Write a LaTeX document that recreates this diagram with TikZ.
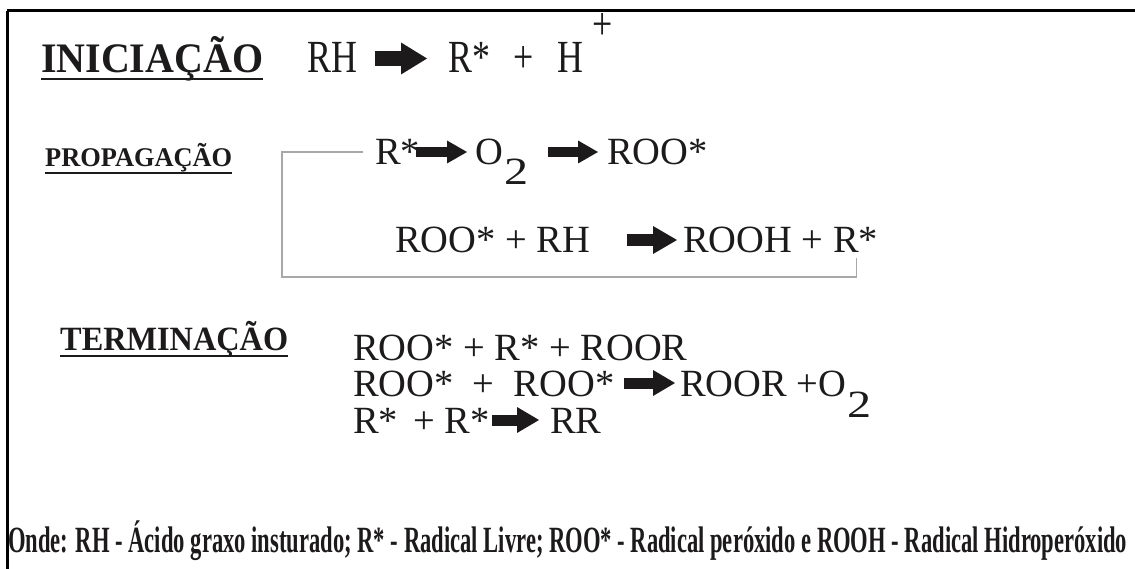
\documentclass[tikz,border=0pt]{standalone}
\usepackage{fontspec}
\setmainfont{Liberation Serif}
\usetikzlibrary{arrows.meta}
\definecolor{ink}{HTML}{1C1A1A}
\definecolor{loopgray}{HTML}{A8A8A8}
% stretch a text horizontally to a given width, keeping its height
\newcommand\fitto[2]{\resizebox{#1}{\height}{#2}}
% narrow lettering used on the initiation line
\newcommand\narrowtxt[1]{\scalebox{0.78}[1]{#1}}
% lowered index digit, as large as the letters
\newcommand\lowidx[2]{\hspace{1pt}\raisebox{#1}{\scalebox{1.25}[1]{#2}}}

\begin{document}
\begin{tikzpicture}[x=1pt,y=-1pt,
  every node/.style={inner sep=0pt, anchor=base west, text=ink},
  eq/.style={font=\fontsize{38.5}{42}\selectfont, text height=26pt, text depth=0pt},
  bigeq/.style={font=\fontsize{46}{50}\selectfont, text height=29pt, text depth=0pt},
  heading/.style={font=\bfseries\fontsize{#1}{#1}\selectfont},
  note/.style={font=\bfseries\fontsize{37}{40}\selectfont},
  uline/.style={line width=2pt, ink},
  frame/.style={line width=3pt, black},
  cycle/.style={line width=1.2pt, loopgray},
  blockarrow/.style n args={3}{line width=#1, draw=ink,
    -{Triangle[length=#3,width=#2,line width=0pt]}},
]
\useasboundingbox (0,0) rectangle (1135,569);
\fill[white] (0,0) rectangle (1135,569);

% frame
\draw[frame] (7,11) -- (1135,11);
\draw[frame] (7,11) -- (7,569);

% --- initiation ---
\node[heading=42] (ini) at (41,73) {\fitto{222pt}{INICIAÇÃO}};
\draw[uline] ([yshift=-6pt]ini.base west) -- ([yshift=-6pt]ini.base east);
\node[bigeq] (rh) at (307,73) {\narrowtxt{RH}};
\node[bigeq] (ir) at (448,73) {\narrowtxt{R*}};
\node[bigeq] (ip) at (513,73) {\narrowtxt{+}};
\node[bigeq] (ih) at (557,73) {\narrowtxt{H}};
\node[bigeq] (ihp) at (592,40) {\narrowtxt{+}};
\draw[blockarrow={15pt}{32pt}{26pt}] ([xshift=18pt]rh.east) -- ([xshift=-21pt]ir.west);

% --- propagation ---
\node[heading=27] (prop) at (45,167) {\fitto{187pt}{PROPAGAÇÃO}};
\draw[uline] ([yshift=-6pt]prop.base west) -- ([yshift=-6pt]prop.base east);
\node[eq] (pr) at (375,165) {R*};
\node[eq] (po) at (475,165) {O\lowidx{-20pt}{2}};
\node[eq] (proo) at (607,165) {ROO*};
\draw[blockarrow={10pt}{23pt}{20pt}] ([xshift=-4pt]pr.east) -- ([xshift=-8pt]po.west);
\draw[blockarrow={10pt}{23pt}{20pt}] ([xshift=20pt]po.east) -- ([xshift=-9pt]proo.west);

\node[eq] (pl) at (395,253) {ROO* + RH};
\node[eq] (pp) at (683,253) {ROOH + R*};
\draw[blockarrow={12pt}{28pt}{24pt}] ([xshift=37pt]pl.east) -- ([xshift=-6pt]pp.west);

% chain loop: the R* formed in the second step feeds the first one
\coordinate (loopcorner) at (282,277);
\draw[cycle] ([xshift=-12pt]pr.west) -| (loopcorner) -| ([xshift=-22pt,yshift=-5pt]pp.base east);

% --- termination ---
\node[heading=34] (term) at (60,350) {\fitto{228pt}{TERMINAÇÃO}};
\draw[uline] ([yshift=-6pt]term.base west) -- ([yshift=-6pt]term.base east);
\node[eq] (t1) at (353,360) {ROO* + R* + ROOR};
\node[eq] (t2l) at (353,396) {ROO*\hspace{0.5em}+\hspace{0.5em}ROO*};
\node[eq] (t2r) at (680,396) {ROOR +O\lowidx{-21pt}{2}};
\draw[blockarrow={11pt}{26pt}{22pt}] ([xshift=9pt]t2l.east) -- ([xshift=-5pt]t2r.west);
\node[eq] (t3l) at (353,433) {R*\hspace{0.4em}+ R*};
\node[eq] (t3r) at (550,433) {RR};
\draw[blockarrow={11pt}{26pt}{22pt}] ([xshift=2pt]t3l.east) -- ([xshift=-11pt]t3r.west);

% --- legend ---
\node[note] (leg) at (8,552) {\fitto{1119pt}{Onde: RH - Ácido graxo insturado; R* - Radical Livre; ROO* - Radical peróxido e ROOH - Radical Hidroperóxido}};
\end{tikzpicture}
\end{document}
